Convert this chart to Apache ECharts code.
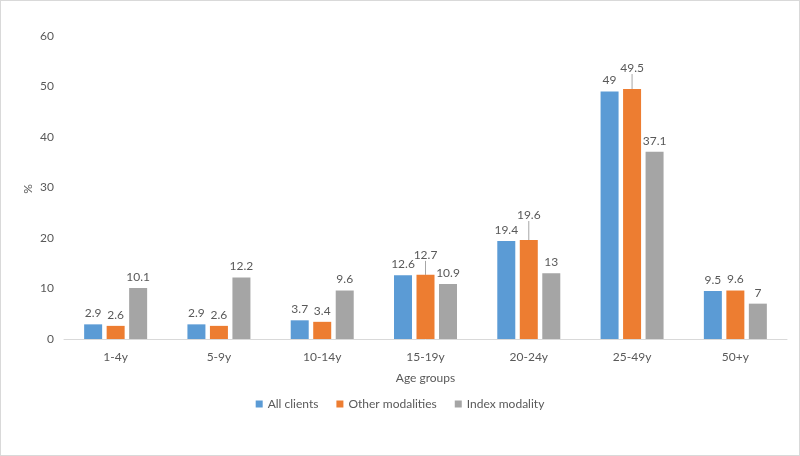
<!DOCTYPE html>
<html><head><meta charset="utf-8">
<script src="https://cdn.jsdelivr.net/npm/echarts@6/dist/echarts.min.js"></script>
<style>html,body{margin:0;padding:0;background:#fff}#c{width:800px;height:456px;box-sizing:border-box;border:1px solid #d9d9d9}</style>
</head><body><div id="c"></div>
<script>
var categories = ['1-4y','5-9y','10-14y','15-19y','20-24y','25-49y','50+y'];
var allClients = [2.9, 2.9, 3.7, 12.6, 19.4, 49, 9.5];
var otherModalities = [2.6, 2.6, 3.4, 12.7, 19.6, 49.5, 9.6];
var indexModality = [10.1, 12.2, 9.6, 10.9, 13, 37.1, 7];
var yTicks = {min: 0, max: 60, interval: 10};

var font = 'Lato, "Open Sans", sans-serif';
var txt = '#595959';
var chart = echarts.init(document.getElementById('c'));
var shifted = {3: -9, 4: -14, 5: -10};
function mk(name, data, color, isOther) {
  var d = data;
  if (isOther) {
    d = data.map(function (v, i) {
      if (shifted[i] !== undefined) return {value: v, labelLine: {show: true, lineStyle: {color: '#a6a6a6', width: 1}}};
      return {value: v};
    });
  }
  var s = {
    name: name, type: 'bar', data: d, barWidth: 18, barGap: '25%',
    itemStyle: {color: color},
    label: {show: true, position: 'top', distance: 5, color: txt, fontSize: 12, fontFamily: font},
    labelLine: {show: false},
    emphasis: {disabled: true}
  };
  if (isOther) {
    s.labelLayout = function (p) {
      if (shifted[p.dataIndex] !== undefined) return {dy: shifted[p.dataIndex]};
      return {};
    };
  }
  return s;
}
chart.setOption({
  animation: false,
  textStyle: {fontFamily: font},
  grid: {left: 63, right: 12, top: 35, bottom: 116, containLabel: false},
  legend: {
    bottom: 40, left: 'center', itemWidth: 7, itemHeight: 7, itemGap: 18,
    icon: 'rect', textStyle: {color: txt, fontSize: 12, fontFamily: font},
    data: ['All clients', 'Other modalities', 'Index modality']
  },
  graphic: [{
    type: 'text', x: 27, y: 188, rotation: Math.PI / 2,
    style: {text: '%', fill: txt, font: '12px ' + font, align: 'center', verticalAlign: 'middle'}
  }],
  xAxis: {
    type: 'category', data: categories, name: 'Age groups', nameLocation: 'middle', nameGap: 33,
    nameTextStyle: {color: txt, fontSize: 12, fontFamily: font},
    axisLine: {lineStyle: {color: '#d9d9d9'}}, axisTick: {show: false},
    axisLabel: {color: txt, fontSize: 12, fontFamily: font, margin: 12}
  },
  yAxis: {
    type: 'value', min: yTicks.min, max: yTicks.max, interval: yTicks.interval,
    axisLine: {show: false}, axisTick: {show: false}, splitLine: {show: false},
    axisLabel: {color: txt, fontSize: 12, fontFamily: font, margin: 10}
  },
  series: [
    mk('All clients', allClients, '#5b9bd5', false),
    mk('Other modalities', otherModalities, '#ed7d31', true),
    mk('Index modality', indexModality, '#a5a5a5', false)
  ]
});
</script></body></html>
